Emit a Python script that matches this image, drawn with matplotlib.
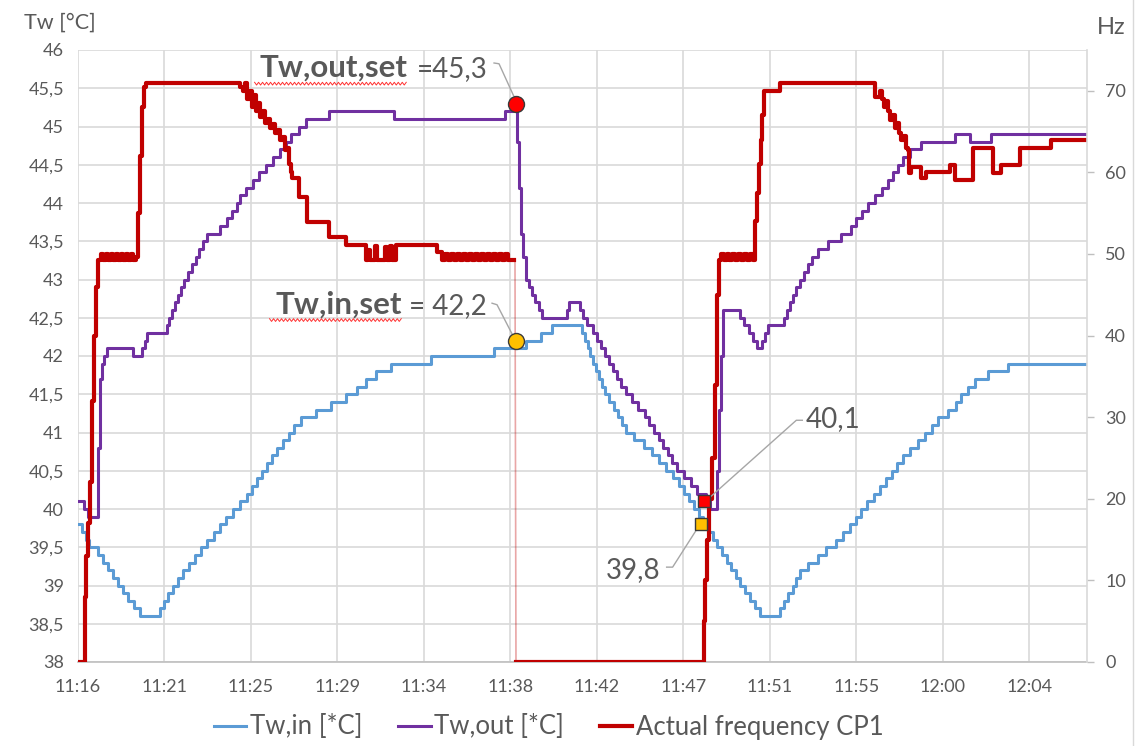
import numpy as np
import matplotlib.pyplot as plt
from matplotlib.lines import Line2D

plt.rcParams['font.family'] = ['Lato', 'DejaVu Sans']

# time axis: seconds after 11:16:00, one label every 26 samples (260 s)
tick_labels = ['11:16', '11:21', '11:25', '11:29', '11:34', '11:38',
               '11:42', '11:47', '11:51', '11:55', '12:00', '12:04']
tick_step = 260
t_end = 3034

# Tw,in [°C] - value from each time on (step series)
tw_in_t = [0, 12, 24, 33, 60, 75, 90, 105, 120, 135, 150, 168, 186,
           246, 258, 270, 285, 300, 315, 333, 351, 369, 387, 408, 426, 444, 465, 486, 507,
           522, 537, 552, 567, 582, 597, 615, 633, 651, 672, 717, 762, 807, 840, 867, 897,
           942, 1062, 1251, 1347, 1392, 1425,
           1515, 1524, 1533, 1539, 1548, 1557, 1566, 1575, 1584, 1596, 1611, 1623, 1635,
           1647, 1671, 1701, 1725, 1746, 1767, 1788, 1806, 1821, 1836, 1851, 1866, 1878,
           1893, 1908, 1920, 1935, 1950, 1965, 1980, 1992, 2007, 2022, 2037, 2052,
           2112, 2124, 2136, 2151, 2160, 2172, 2196, 2226, 2250, 2280, 2301, 2322, 2340,
           2355, 2373, 2394, 2412, 2430, 2448, 2463, 2481, 2502, 2526, 2547, 2568, 2586,
           2616, 2640, 2655, 2676, 2697, 2736, 2796, 3034]
tw_in = [39.8, 39.7, 39.6, 39.5, 39.4, 39.3, 39.2, 39.1, 39.0, 38.9, 38.8, 38.7, 38.6,
         38.7, 38.8, 38.9, 39.0, 39.1, 39.2, 39.3, 39.4, 39.5, 39.6, 39.7, 39.8, 39.9, 40.0, 40.1, 40.2,
         40.3, 40.4, 40.5, 40.6, 40.7, 40.8, 40.9, 41.0, 41.1, 41.2, 41.3, 41.4, 41.5, 41.6, 41.7, 41.8,
         41.9, 42.0, 42.1, 42.2, 42.3, 42.4,
         42.3, 42.2, 42.1, 42.0, 41.9, 41.8, 41.7, 41.6, 41.5, 41.4, 41.3, 41.2, 41.1,
         41.0, 40.9, 40.8, 40.7, 40.6, 40.5, 40.4, 40.3, 40.2, 40.1, 40.0, 39.9, 39.8,
         39.7, 39.6, 39.5, 39.4, 39.3, 39.2, 39.1, 39.0, 38.9, 38.8, 38.7, 38.6,
         38.7, 38.8, 38.9, 39.0, 39.1, 39.2, 39.3, 39.4, 39.5, 39.6, 39.7, 39.8, 39.9,
         40.0, 40.1, 40.2, 40.3, 40.4, 40.5, 40.6, 40.7, 40.8, 40.9, 41.0, 41.1, 41.2,
         41.3, 41.4, 41.5, 41.6, 41.7, 41.8, 41.9, 41.9]

# Tw,out [°C]
tw_out_t = [0, 18, 30, 60, 66, 72, 78, 87, 165, 192, 201, 207,
            267, 273, 282, 291, 300, 309, 318, 330, 342, 354, 363, 375, 387, 426, 447,
            462, 477, 486, 504, 525, 543, 564, 585, 606, 624, 639, 666, 687, 756, 951,
            1284, 1308, 1320, 1326, 1332, 1338, 1347, 1356, 1365, 1374, 1386, 1395, 1470,
            1476, 1509, 1518, 1530, 1548, 1560, 1572, 1584, 1596, 1608, 1620, 1632, 1647,
            1665, 1683, 1704, 1716, 1731, 1746, 1758, 1773, 1785, 1800, 1821, 1842, 1860,
            1887, 1899, 1920, 1926, 1932, 1938, 1992, 2004, 2019, 2031, 2043, 2058, 2067,
            2076, 2124, 2133, 2142, 2151, 2160, 2172, 2184, 2196, 2208, 2226, 2256, 2295,
            2325, 2340, 2358, 2376, 2397, 2418, 2436, 2451, 2466, 2481, 2502, 2535, 2637,
            2682, 2745, 3034]
tw_out = [40.1, 40.0, 39.9, 40.8, 41.7, 41.9, 42.0, 42.1, 42.0, 42.1, 42.2, 42.3,
          42.4, 42.5, 42.6, 42.7, 42.8, 42.9, 43.0, 43.1, 43.2, 43.3, 43.4, 43.5, 43.6, 43.7, 43.8,
          43.9, 44.0, 44.1, 44.2, 44.3, 44.4, 44.5, 44.6, 44.7, 44.8, 44.9, 45.0, 45.1, 45.2, 45.1,
          45.2, 45.3, 44.8, 44.2, 43.6, 43.3, 43.0, 42.9, 42.8, 42.7, 42.6, 42.5, 42.6,
          42.7, 42.6, 42.5, 42.4, 42.3, 42.2, 42.1, 42.0, 41.9, 41.8, 41.7, 41.6, 41.5,
          41.4, 41.3, 41.2, 41.1, 41.0, 40.9, 40.8, 40.7, 40.6, 40.5, 40.4, 40.3, 40.2,
          40.1, 40.0, 40.5, 41.3, 42.0, 42.6, 42.5, 42.4, 42.3, 42.2, 42.1, 42.2, 42.3,
          42.4, 42.5, 42.6, 42.7, 42.8, 42.9, 43.0, 43.1, 43.2, 43.3, 43.4, 43.5, 43.6,
          43.7, 43.8, 43.9, 44.0, 44.1, 44.2, 44.3, 44.4, 44.5, 44.6, 44.7, 44.8, 44.9,
          44.8, 44.9, 44.9]

# Actual frequency CP1 [Hz], first run up to the stop
freq_a_t = [0, 21, 24, 30, 36, 42, 48, 54, 60, 69, 75, 84, 90, 99, 105, 114, 120, 129,
            135, 144, 150, 159, 165, 174, 180, 186, 192, 198, 204,
            486, 495, 501, 507, 516, 522, 528, 534, 540, 546, 555, 561, 570, 576, 585,
            591, 600, 606, 615, 621, 630, 633, 639, 642, 666, 690, 756, 807,
            867, 873, 879, 894, 900, 924, 930, 939, 945, 957, 1080, 1095,
            1104, 1113, 1122, 1131, 1140, 1149, 1158, 1167, 1176, 1185, 1194, 1203,
            1212, 1221, 1230, 1239, 1248, 1257, 1266, 1275, 1284, 1293, 1311]
freq_a = [0, 8, 13, 17, 22, 32, 40, 46, 49.3, 50.0, 49.3, 50.0, 49.3, 50.0, 49.3, 50.0, 49.3, 50.0,
          49.3, 50.0, 49.3, 50.0, 49.3, 49.6, 55, 62, 68, 70.5, 71,
          70.5, 70, 71, 69, 70, 68, 69.5, 67.5, 68.5, 66.8, 67.5, 66, 66.6, 65.5, 65.9,
          64.8, 65.2, 64, 64.3, 62.8, 63, 61, 60, 59.3, 57, 53.9, 52.1, 51.1,
          49.3, 50.5, 49.3, 51, 49.3, 50.8, 49.3, 51, 49.3, 51.1, 50.2, 49.3,
          50, 49.3, 50, 49.3, 50, 49.3, 50, 49.3, 50, 49.3, 50, 49.3,
          50, 49.3, 50, 49.3, 50, 49.3, 50, 49.3, 50, 49.3, 49.3]

# second run after the restart
freq_b_t = [1317, 1881, 1884, 1890, 1896, 1905, 1914, 1920, 1926, 1932, 1941, 1950,
            1959, 1968, 1977, 1986, 1995, 2004, 2013, 2022, 2031, 2037, 2043, 2049,
            2055, 2058, 2064, 2112, 2397, 2412, 2418, 2424, 2430, 2436, 2442, 2451,
            2457, 2463, 2469, 2475, 2484, 2490, 2496, 2499, 2505, 2535, 2550, 2622,
            2637, 2691, 2751, 2775, 2832, 2925, 3034]
freq_b = [0, 5, 10, 15, 20, 25, 34, 45, 49.3, 50, 49.3, 50,
          49.3, 50, 49.3, 50, 49.3, 50, 49.3, 50, 49.3, 54, 57.5, 61,
          64, 67, 70, 71, 69.2, 70, 69, 68, 68.8, 67.5, 66.4, 67,
          65.5, 66, 64.8, 64, 64.5, 63, 62.7, 59.9, 60.7, 59.3, 60.1, 60.9,
          59.1, 63, 59.9, 60.9, 63, 64, 64]

# marked points: (time, temperature)
tw_out_set = (1317, 45.3)
tw_in_set = (1317, 42.2)
tw_out_restart = (1881, 40.1)
tw_in_restart = (1872, 39.8)

c_in, c_out, c_freq = '#5B9BD5', '#7030A0', '#C00000'
grey_txt = '#595959'
grid_c = '#D9D9D9'

fig = plt.figure(figsize=(11.41, 7.46), dpi=100)
W, H = 1141, 746
ax1 = fig.add_axes([78 / W, 84 / H, 1009 / W, 612 / H])
ax2 = ax1.twinx()

ax1.set_xlim(0, t_end)
ax1.set_ylim(38, 46)
ax2.set_ylim(0, 75)

ax1.set_xticks([i * tick_step for i in range(len(tick_labels))])
ax1.set_xticklabels(tick_labels)
yt = np.arange(38, 46.01, 0.5)
ax1.set_yticks(yt)
ax1.set_yticklabels([f'{v:g}'.replace('.', ',') for v in yt])
ax2.set_yticks(range(0, 71, 10))

ax1.grid(True, color=grid_c, lw=1.2)
ax1.set_axisbelow(True)
for s in ['top', 'left', 'right']:
    ax1.spines[s].set_visible(False)
ax1.spines['bottom'].set_color('#BFBFBF')
ax1.spines['bottom'].set_linewidth(1.2)
for s in ['top', 'left', 'bottom']:
    ax2.spines[s].set_visible(False)
ax2.spines['right'].set_color(grid_c)
ax2.spines['right'].set_linewidth(1.2)

ax1.tick_params(axis='y', length=0, pad=10, labelsize=13, labelcolor=grey_txt)
ax1.tick_params(axis='x', length=0, pad=12, labelsize=13, labelcolor=grey_txt)
ax2.tick_params(axis='y', length=5, width=1, color='#BFBFBF', pad=8,
                labelsize=13, labelcolor=grey_txt)

ax1.plot(tw_in_t, tw_in, drawstyle='steps-post', color=c_in, lw=2.2)
ax1.plot(tw_out_t, tw_out, drawstyle='steps-post', color=c_out, lw=2.2)

ax2.plot(freq_a_t, freq_a, drawstyle='steps-post', color=c_freq, lw=3.0)
ax2.plot(freq_b_t, freq_b, drawstyle='steps-post', color=c_freq, lw=3.0)
# stop of the compressor: thin link between the two runs
ax2.plot([freq_a_t[-1] + 3, freq_b_t[0]], [freq_a[-1], freq_b[0]],
         color=c_freq, lw=1.2, alpha=0.35)

# markers drawn on top of the frequency axis, in temperature coordinates
tr = ax1.transData
ax2.plot(*tw_out_set, 'o', ms=11.5, mfc='#FF0000', mec='#3A3A3A', mew=1, transform=tr, zorder=6)
ax2.plot(*tw_in_set, 'o', ms=11.5, mfc='#FFC000', mec='#3A3A3A', mew=1, transform=tr, zorder=6)
ax2.plot(*tw_out_restart, 's', ms=8.5, mfc='#FF0000', mec='#3A3A3A', mew=1, transform=tr, zorder=6)
ax2.plot(*tw_in_restart, 's', ms=8.5, mfc='#FFC000', mec='#3A3A3A', mew=1, transform=tr, zorder=6)


def fmt(v):
    return f'{v:.1f}'.replace('.', ',')


def leader(xs, ys):
    ax2.plot(xs, ys, color='#A6A6A6', lw=1, transform=tr, zorder=5)


def squiggle(x0, x1, y):
    xs = np.arange(x0, x1, 6)
    ys = y + 0.018 * (-1) ** np.arange(len(xs))
    ax2.plot(xs, ys, color='#FF3030', lw=0.7, transform=tr, zorder=5)


lab_kw = dict(transform=tr, va='baseline', color=grey_txt, zorder=7)
ax2.text(990, 45.65, 'Tw,out,set', ha='right', fontsize=22.5, fontweight='bold', **lab_kw)
ax2.text(1020, 45.65, '=' + fmt(tw_out_set[1]), ha='left', fontsize=20, **lab_kw)
squiggle(531, 990, 45.56)
leader([1251, 1266, 1310], [45.83, 45.82, 45.40])

ax2.text(975, 42.55, 'Tw,in,set', ha='right', fontsize=22.5, fontweight='bold', **lab_kw)
ax2.text(996, 42.55, '= ' + fmt(tw_in_set[1]), ha='left', fontsize=20, **lab_kw)
squiggle(576, 975, 42.47)
leader([1245, 1260, 1305], [42.69, 42.67, 42.29])

ax2.text(2187, 41.07, fmt(tw_out_restart[1]), ha='left', fontsize=20, **lab_kw)
leader([2178, 2160, 1902], [41.16, 41.16, 40.16])

ax2.text(1752, 39.10, fmt(tw_in_restart[1]), ha='right', fontsize=20, **lab_kw)
leader([1770, 1788, 1860], [39.24, 39.24, 39.73])

fig.text(24 / W, 1 - 23 / H, 'Tw [°C]', ha='left', va='center', fontsize=15.5, color=grey_txt)
fig.text(1097 / W, 1 - 27 / H, 'Hz', ha='left', va='center', fontsize=17, color=grey_txt)

handles = [Line2D([], [], color=c_in, lw=2.2),
           Line2D([], [], color=c_out, lw=2.2),
           Line2D([], [], color=c_freq, lw=3.0)]
fig.legend(handles, ['Tw,in [*C]', 'Tw,out [*C]', 'Actual frequency CP1'],
           loc='center', bbox_to_anchor=(549 / W, 1 - 727 / H), ncol=3, frameon=False,
           fontsize=18.5, handlelength=1.25, handletextpad=0.15, columnspacing=1.4,
           labelcolor=grey_txt)

# outer chart border on the right
fig.add_artist(Line2D([1133 / W, 1133 / W], [0, 1], color=grid_c, lw=1))

fig.savefig('out.png', dpi=100)
